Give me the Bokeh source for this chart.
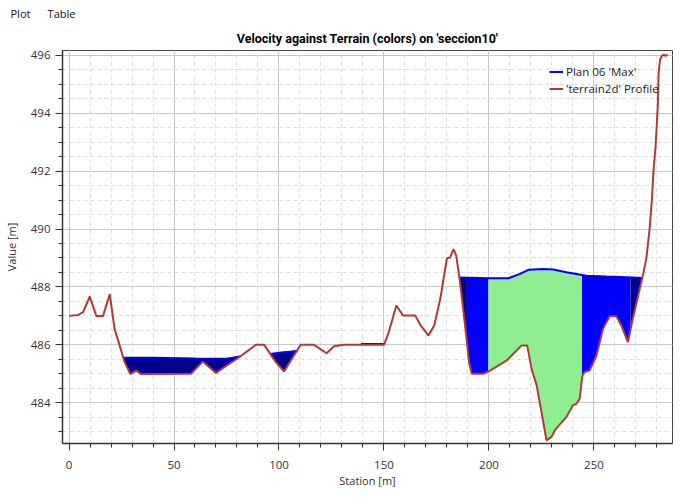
import numpy as np
from bokeh.plotting import figure
from bokeh.models import Range1d, SingleIntervalTicker, Title
from bokeh.embed import file_html
from bokeh.resources import INLINE

# ---- data ----
terrain_x = [0.0, 4.4, 6.7, 9.9, 13.0, 16.2, 19.4, 21.7, 24.1, 26.5, 29.2, 32.0, 34.1,
             58.1, 63.7, 70.0, 81.0, 89.0, 92.9, 98.5, 102.4, 110.3, 116.7, 122.7, 126.2,
             130.9, 150.0, 152.3, 155.9, 159.1, 164.9, 167.3, 171.2, 174.0, 176.8, 178.4,
             180.0, 181.5, 183.1, 184.4, 186.0, 187.9, 189.5, 190.5, 191.8, 197.3, 200.5,
             208.5, 215.6, 218.2, 220.3, 222.7, 225.0, 227.4, 229.8, 231.4, 236.9, 240.0,
             241.7, 243.2, 244.5, 245.6, 247.9, 251.2, 254.3, 257.5, 260.7, 263.0, 266.2,
             268.5, 270.9, 273.3, 274.9, 276.5, 277.6, 278.4, 279.3, 280.4, 280.8, 281.5,
             282.5, 283.6, 284.1, 285.1]
terrain_y = [487.0, 487.03, 487.13, 487.67, 487.0, 487.0, 487.75, 486.55, 485.98, 485.4,
             484.99, 485.11, 484.99, 485.0, 485.42, 485.03, 485.57, 486.0, 486.0, 485.4,
             485.08, 486.0, 486.0, 485.71, 485.95, 486.0, 486.0, 486.44, 487.36, 487.01,
             487.01, 486.69, 486.32, 486.68, 487.59, 488.3, 488.99, 489.02, 489.31, 489.08,
             488.28, 487.13, 486.09, 485.4, 485.0, 485.0, 485.11, 485.46, 485.98, 485.98,
             485.17, 484.6, 483.68, 482.7, 482.82, 483.05, 483.51, 483.91, 483.97, 484.14,
             484.94, 485.06, 485.11, 485.63, 486.55, 486.99, 486.99, 486.67, 486.09, 486.9,
             487.65, 488.4, 488.97, 490.0, 491.03, 492.07, 492.8, 494.25, 495.4, 495.86,
             496.0, 496.02, 495.98, 496.03]

# water surface (Plan 06 'Max') for each wetted reach
pool1_x = [25.9, 40.0, 60.0, 75.0, 81.5]
pool1_y = [485.55, 485.55, 485.53, 485.52, 485.6]
pool2_x = [95.8, 102.0, 108.8]
pool2_y = [485.68, 485.74, 485.78]
pool3_x = [139.0, 150.0]
pool3_y = [486.03, 486.03]
pool4_x = [185.9, 200.0, 209.2, 214.8, 218.7, 225.8, 230.6, 236.9, 246.4, 255.9, 268.5, 273.0]
pool4_y = [488.33, 488.30, 488.30, 488.45, 488.59, 488.62, 488.60, 488.51, 488.39, 488.36,
           488.33, 488.31]

# velocity bands (pool, start station, end station, velocity class)
band_pool = [1, 2, 4, 4, 4, 4, 4]
band_x0 = [25.9, 95.8, 185.9, 189.5, 199.7, 244.3, 267.4]
band_x1 = [81.5, 108.8, 189.5, 199.7, 244.3, 267.4, 273.0]
band_class = ["low", "low", "low", "mid", "high", "mid", "low"]

class_color = {"low": "#00008B", "mid": "#0000FF", "high": "#90EE90"}

FONT = "Open Sans"

Y0, Y1 = 482.59, 496.17
p = figure(width=681, height=490, output_backend="svg", toolbar_location=None,
           x_range=Range1d(-3.1, 287.4), y_range=Range1d(Y0, Y1),
           min_border_left=57, min_border_right=9, min_border_top=50, min_border_bottom=40,
           background_fill_color="white", border_fill_color="white")

main_title = Title(text="Velocity against Terrain (colors) on 'seccion10'", align="center",
                   text_font="Roboto", text_font_size="12.5px", text_font_style="bold",
                   text_color="#000000")
p.add_layout(main_title, "above")
tabs = Title(text="Plot\u00a0\u00a0\u00a0\u00a0\u00a0\u00a0Table", align="left", offset=-52,
             text_font=FONT, text_font_size="11px", text_font_style="normal",
             text_color="#111111", standoff=5)
p.add_layout(tabs, "above")

p.xaxis.ticker = SingleIntervalTicker(interval=50, num_minor_ticks=5)
p.yaxis.ticker = SingleIntervalTicker(interval=2, num_minor_ticks=4)

for ax in (p.xaxis, p.yaxis):
    ax.axis_line_color = "#333333"
    ax.axis_line_width = 1.5
    ax.major_tick_line_color = "#333333"
    ax.minor_tick_line_color = "#333333"
    ax.major_tick_out = 7
    ax.major_tick_in = 0
    ax.minor_tick_out = 4
    ax.minor_tick_in = 0
    ax.major_label_text_font = FONT
    ax.major_label_text_font_size = "11.5px"
    ax.major_label_text_color = "#333333"
    ax.axis_label_text_font = FONT
    ax.axis_label_text_font_size = "11px"
    ax.axis_label_text_font_style = "normal"
    ax.axis_label_text_color = "#333333"

p.xaxis.axis_label = "Station [m]"
p.yaxis.axis_label = "Value [m]"
p.xaxis.major_label_standoff = 10
p.xaxis.axis_label_standoff = 1
p.yaxis.axis_label_standoff = 9

p.grid.grid_line_color = "#c8c8c8"
p.grid.minor_grid_line_color = "#dddddd"
p.grid.minor_grid_line_dash = "4 3"

p.outline_line_color = "#444444"
p.outline_line_width = 1

pools = {1: (pool1_x, pool1_y), 2: (pool2_x, pool2_y), 3: (pool3_x, pool3_y), 4: (pool4_x, pool4_y)}

tx = np.array(terrain_x)
ty = np.array(terrain_y)
for pool, x0, x1, cls in zip(band_pool, band_x0, band_x1, band_class):
    sx, sy = pools[pool]
    pts = {x0, x1}
    pts.update(v for v in terrain_x if x0 < v < x1)
    pts.update(v for v in sx if x0 < v < x1)
    xs = np.array(sorted(pts))
    top = np.interp(xs, sx, sy)
    bot = np.interp(xs, tx, ty)
    top = np.maximum(top, bot)
    p.varea(x=xs, y1=bot, y2=top, fill_color=class_color[cls], fill_alpha=1.0)

p.multi_line(xs=[pool1_x, pool2_x, pool3_x, pool4_x], ys=[pool1_y, pool2_y, pool3_y, pool4_y],
             line_color="#0000FF", line_width=2, legend_label="Plan 06 'Max'")
p.line(terrain_x, terrain_y, line_color="#B03A3A", line_width=2,
       legend_label="'terrain2d' Profile")

lg = p.legend[0]
lg.location = (487, 346)
lg.border_line_color = None
lg.background_fill_alpha = 0
lg.padding = 0
lg.margin = 0
lg.spacing = 0
lg.glyph_width = 14
lg.glyph_height = 17
lg.label_height = 17
lg.label_standoff = 3
lg.label_text_font = FONT
lg.label_text_font_size = "11.5px"
lg.label_text_color = "#222222"

open("out.html", "w").write(file_html(p, INLINE))
